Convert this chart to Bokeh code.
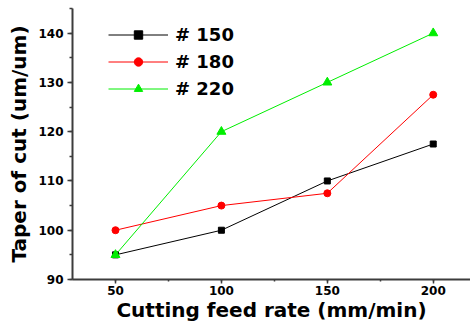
from bokeh.plotting import figure
from bokeh.models import Range1d, SingleIntervalTicker, Legend, LegendItem
from bokeh.embed import file_html
from bokeh.resources import INLINE

feed_rate = [50, 100, 150, 200]
taper_150 = [95, 100, 110, 117.5]
taper_180 = [100, 105, 107.5, 127.5]
taper_220 = [95, 120, 130, 140]
series_names = ["# 150", "# 180", "# 220"]

p = figure(width=470, height=324, output_backend="svg", toolbar_location=None,
           x_range=Range1d(29.7, 217.6), y_range=Range1d(90, 145),
           min_border_left=72, min_border_right=0, min_border_top=8, min_border_bottom=45)
p.outline_line_color = None
p.xgrid.visible = False
p.ygrid.visible = False

FONT = "DejaVu Sans"
axis_col = "#3c3c3c"

items = []
specs = [(taper_150, "black", "square", 6),
         (taper_180, "red", "circle", 7),
         (taper_220, "#00ee00", "triangle", 9)]
for (vals, col, mk, sz), name in zip(specs, series_names):
    l = p.line(feed_rate, vals, line_color=col, line_width=1)
    s = p.scatter(feed_rate, vals, marker=mk, size=sz, fill_color=col, line_color=col)
    items.append(LegendItem(label=name, renderers=[l, s]))

legend = Legend(items=items, location=(36, 180), padding=0, margin=0,
                glyph_width=60, glyph_height=21, label_height=21, spacing=6,
                label_standoff=7, background_fill_alpha=0, border_line_alpha=0,
                label_text_font=FONT, label_text_font_style="bold",
                label_text_font_size="18px", label_text_color="black")
p.add_layout(legend)

p.xaxis.ticker = SingleIntervalTicker(interval=50, num_minor_ticks=2)
p.yaxis.ticker = SingleIntervalTicker(interval=10, num_minor_ticks=2)

for ax in (p.xaxis[0], p.yaxis[0]):
    ax.axis_line_color = axis_col
    ax.axis_line_width = 2
    ax.major_tick_line_color = axis_col
    ax.minor_tick_line_color = axis_col
    ax.major_tick_line_width = 1.5
    ax.minor_tick_line_width = 1.5
    ax.major_tick_in = 0
    ax.minor_tick_in = 0
    ax.major_label_text_font = FONT
    ax.major_label_text_font_style = "bold"
    ax.major_label_text_font_size = "12px"
    ax.major_label_text_color = "black"
    ax.axis_label_text_font = FONT
    ax.axis_label_text_font_style = "bold"
    ax.axis_label_text_color = "black"

p.xaxis.major_tick_out = 4
p.xaxis.minor_tick_out = 2
p.yaxis.major_tick_out = 5
p.yaxis.minor_tick_out = 3
p.xaxis.major_label_standoff = 2
p.yaxis.major_label_standoff = 4
p.xaxis.axis_label = "Cutting feed rate (mm/min)"
p.yaxis.axis_label = "Taper of cut (um/um)"
p.xaxis.axis_label_text_font_size = "20px"
p.yaxis.axis_label_text_font_size = "20px"
p.xaxis.axis_label_standoff = 0
p.yaxis.axis_label_standoff = 4

open("out.html", "w").write(file_html(p, INLINE))
